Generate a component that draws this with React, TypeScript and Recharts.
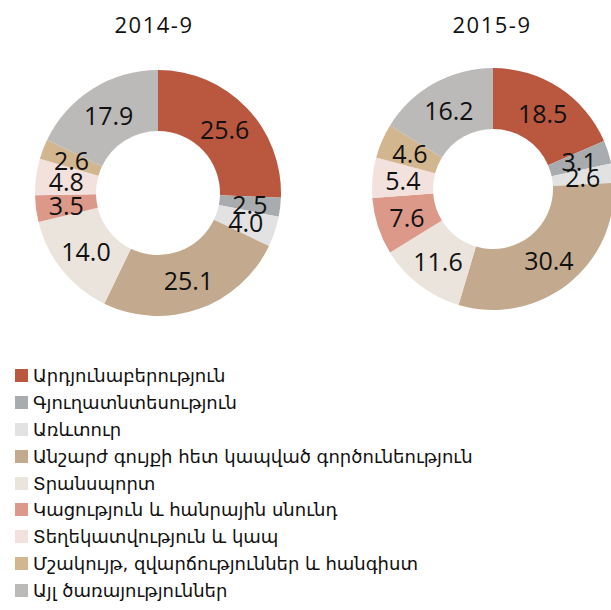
import { PieChart, Pie, Cell } from 'recharts'

// Sectors, clockwise from 12 o'clock
const sectors = [
  'Արդյունաբերություն',
  'Գյուղատնտեսություն',
  'Առևտուր',
  'Անշարժ գույքի հետ կապված գործունեություն',
  'Տրանսպորտ',
  'Կացություն և հանրային սնունդ',
  'Տեղեկատվություն և կապ',
  'Մշակույթ, զվարճություններ և հանգիստ',
  'Այլ ծառայություններ',
]

const values2014 = [25.6, 2.5, 4.0, 25.1, 14.0, 3.5, 4.8, 2.6, 17.9]
const values2015 = [18.5, 3.1, 2.6, 30.4, 11.6, 7.6, 5.4, 4.6, 16.2]

const titles = ['2014-9', '2015-9']

const COLORS = ['#B9583F', '#A9ACAF', '#E2E2E3', '#C3AA8E', '#EAE4DC', '#DC9888', '#F2E1DD', '#D2B68F', '#BCB9B9']

const data2014 = sectors.map((name, i) => ({ name, value: values2014[i] }))
const data2015 = sectors.map((name, i) => ({ name, value: values2015[i] }))

const labelFont = "'Open Sans', 'DejaVu Sans', sans-serif"

const RAD = Math.PI / 180

// label centered in the ring
function renderLabel(props: any) {
  const { cx, cy, midAngle, innerRadius, outerRadius, value } = props
  const r = (innerRadius + outerRadius) / 2
  const x = cx + r * Math.cos(-midAngle * RAD)
  const y = cy + r * Math.sin(-midAngle * RAD)
  return (
    <text
      x={x}
      y={y}
      fill="#111"
      textAnchor="middle"
      dominantBaseline="central"
      fontSize={25}
      fontFamily={labelFont}
    >
      {value.toFixed(1)}
    </text>
  )
}

const titleStyle: React.CSSProperties = {
  position: 'absolute',
  top: 9,
  width: 160,
  textAlign: 'center',
  fontFamily: labelFont,
  fontSize: 22,
  letterSpacing: 1.5,
  color: '#111',
}

export default function App() {
  return (
    <div style={{ position: 'absolute', left: 0, top: 0, width: 611, height: 610, background: '#fff', overflow: 'hidden' }}>
      <div style={{ ...titleStyle, left: 154 - 80 }}>{titles[0]}</div>
      <div style={{ ...titleStyle, left: 492 - 80 }}>{titles[1]}</div>

      <div style={{ position: 'absolute', left: 0, top: 0 }}>
        <PieChart width={611} height={330}>
          <Pie
            data={data2014}
            dataKey="value"
            cx={153}
            cy={188}
            innerRadius={62}
            outerRadius={123}
            startAngle={90}
            endAngle={-270}
            stroke="none"
            labelLine={false}
            label={renderLabel}
            isAnimationActive={false}
          >
            {data2014.map((_, i) => (
              <Cell key={`a-${i}`} fill={COLORS[i]} />
            ))}
          </Pie>
          <Pie
            data={data2015}
            dataKey="value"
            cx={488}
            cy={184}
            innerRadius={60}
            outerRadius={121}
            startAngle={90}
            endAngle={-270}
            stroke="none"
            labelLine={false}
            label={renderLabel}
            isAnimationActive={false}
          >
            {data2015.map((_, i) => (
              <Cell key={`b-${i}`} fill={COLORS[i]} />
            ))}
          </Pie>
        </PieChart>
      </div>

      {/* legend */}
      <div style={{ position: 'absolute', left: 15, top: 362 }}>
        {sectors.map((name, i) => (
          <div key={name} style={{ display: 'flex', alignItems: 'center', height: 26.9 }}>
            <div style={{ width: 13, height: 13, background: COLORS[i], marginRight: 5 }} />
            <span style={{ fontFamily: "'DejaVu Sans', sans-serif", fontSize: 18, color: '#111', whiteSpace: 'nowrap' }}>
              {name}
            </span>
          </div>
        ))}
      </div>
    </div>
  )
}
